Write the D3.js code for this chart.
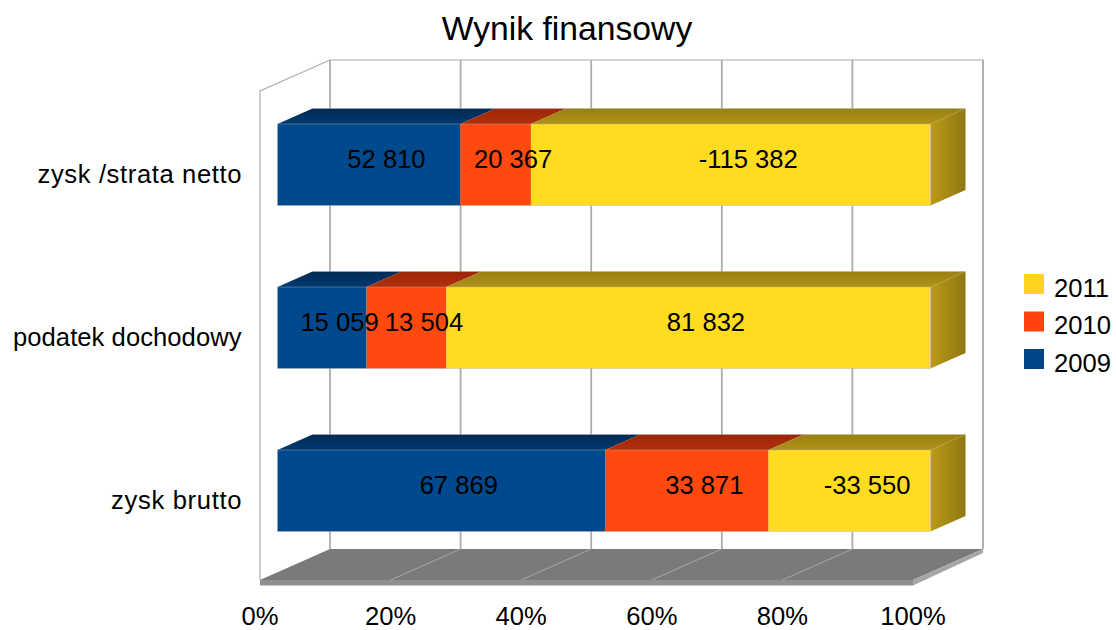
<!DOCTYPE html>
<html><head><meta charset="utf-8">
<style>html,body{margin:0;padding:0;background:#fff}svg{display:block}text{font-family:"Liberation Sans",Arial,sans-serif;fill:#000}</style>
<script src="https://cdn.jsdelivr.net/npm/d3@7"></script>
</head><body><svg id="c" width="1116" height="630"></svg>
<script>
const title = "Wynik finansowy";
const categories = ["zysk /strata netto", "podatek dochodowy", "zysk brutto"];
const seriesNames = ["2009", "2010", "2011"];
const values2009 = [52810, 15059, 67869];
const values2010 = [20367, 13504, 33871];
const values2011 = [-115382, 81832, -33550];
const seriesColors = ["#004586", "#ff420e", "#ffd320"];
const frontColors = ["#00498c", "#ff490f", "#ffdc20"];
const topColors = [["#002a54", "#003a70"], ["#9a2608", "#b3300b"], ["#9a7f12", "#b0921a"]];
const sideColors = ["#bb9b1a", "#8e7710"];
const xTicks = [0, .2, .4, .6, .8, 1];
const catLabelLengths = [204, 228.5, 130.5];

const allValues = [values2009, values2010, values2011];
const svg = d3.select("#c");
const dx = 70, dy = -31;
const x = d3.scaleLinear().domain([0, 1]).range([260, 913]);
const y = d3.scaleBand().domain(categories).range([91, 580]).paddingInner(.5).paddingOuter(.25);
const yMid = c => y(c) + y.bandwidth() / 2;
const P = (px, py, z) => [px + dx * z, py + dy * z];
const pts = a => a.map(p => p.join(",")).join(" ");
const fmt = v => (v < 0 ? "-" : "") + d3.format(",")(Math.abs(v)).replace(/,/g, " ");

const defs = svg.append("defs");
topColors.forEach((c, i) => {
  const g = defs.append("linearGradient").attr("id", "top" + i).attr("x1", 0).attr("x2", 0).attr("y1", 0).attr("y2", 1);
  g.append("stop").attr("offset", 0).attr("stop-color", c[0]);
  g.append("stop").attr("offset", 1).attr("stop-color", c[1]);
});
const sg = defs.append("linearGradient").attr("id", "side").attr("x1", 0).attr("x2", 1).attr("y1", 0).attr("y2", 0);
sg.append("stop").attr("offset", 0).attr("stop-color", sideColors[0]);
sg.append("stop").attr("offset", 1).attr("stop-color", sideColors[1]);

// title
svg.append("text").attr("x", 567).attr("y", 40).attr("text-anchor", "middle").attr("font-size", 33.7).text(title);

// walls and grid
const wall = svg.append("g").attr("fill", "none").attr("stroke", "#adadad");
const [y0, y1] = y.range();
wall.append("polyline").attr("stroke-width", 1.2).attr("points", pts([[x(0), y1], [x(0), y0], P(x(0), y0, 1), P(x(1), y0, 1), P(x(1), y1, 1)]));
wall.selectAll("line.g").data(xTicks).join("line").attr("class", "g")
  .attr("stroke-width", 1.8)
  .attr("x1", d => P(x(d), y0, 1)[0]).attr("x2", d => P(x(d), y0, 1)[0])
  .attr("y1", y0 + dy).attr("y2", y1 + dy);

// floor
svg.append("polygon").attr("fill", "#7a7a7a").attr("points", pts([[x(0), y1], P(x(0), y1, 1), P(x(1), y1, 1), [x(1), y1]]));
svg.selectAll("line.f").data(xTicks.slice(1, 5)).join("line").attr("class", "f")
  .attr("stroke", "#b3b3b3").attr("stroke-width", .8)
  .attr("x1", d => x(d)).attr("y1", y1).attr("x2", d => P(x(d), y1, 1)[0]).attr("y2", y1 + dy);
svg.append("polygon").attr("fill", "#8f8f8f").attr("points", pts([[x(0), y1], [x(1), y1], [x(1), y1 + 5.5], [x(0), y1 + 5.5]]));
svg.append("polygon").attr("fill", "#a6a6a6").attr("points", pts([[x(1), y1], P(x(1), y1, 1), [P(x(1), y1, 1)[0], y1 + dy + 4], [x(1), y1 + 5.5]]));

// bars
const zF = .25, zB = .75;
const segments = [];
categories.forEach((c, ci) => {
  const abs = allValues.map(s => Math.abs(s[ci]));
  const total = d3.sum(abs);
  let acc = 0;
  abs.forEach((a, si) => {
    segments.push({c, si, v: allValues[si][ci], a0: acc / total, a1: (acc + a) / total, last: si === 2});
    acc += a;
  });
});
const bars = svg.append("g");
segments.forEach(s => {
  const t = y(s.c), b = t + y.bandwidth(), l = x(s.a0), r = x(s.a1);
  bars.append("polygon").attr("fill", `url(#top${s.si})`)
    .attr("points", pts([P(l, t, zF), P(l, t, zB), P(r, t, zB), P(r, t, zF)]));
  if (s.last) bars.append("polygon").attr("fill", "url(#side)")
    .attr("points", pts([P(r, t, zF), P(r, t, zB), P(r, b, zB), P(r, b, zF)]));
  const f = P(l, t, zF), g = P(r, b, zF);
  bars.append("rect").attr("x", f[0]).attr("y", f[1]).attr("width", g[0] - f[0]).attr("height", g[1] - f[1])
    .attr("fill", frontColors[s.si]);
});
// faint outline of each bar
categories.forEach(c => {
  const t = y(c), b = t + y.bandwidth(), f = P(x(0), t, zF), g = P(x(1), b, zF);
  bars.append("rect").attr("x", f[0]).attr("y", f[1]).attr("width", g[0] - f[0]).attr("height", g[1] - f[1])
    .attr("fill", "none").attr("stroke", "#b3b3b3").attr("stroke-width", .6).attr("stroke-opacity", .7);
  bars.append("line").attr("x1", P(x(0), t, zB)[0]).attr("x2", P(x(1), t, zB)[0])
    .attr("y1", P(0, t, zB)[1]).attr("y2", P(0, t, zB)[1])
    .attr("stroke", "#b3b3b3").attr("stroke-width", .6).attr("stroke-opacity", .7);
});
bars.selectAll("text").data(segments).join("text")
  .attr("x", d => P(x((d.a0 + d.a1) / 2), 0, .5)[0])
  .attr("y", d => P(0, yMid(d.c), .5)[1] + 10.5)
  .attr("text-anchor", "middle").attr("font-size", 25.6).text(d => fmt(d.v));

// category labels
svg.selectAll("text.cat").data(categories).join("text").attr("class", "cat")
  .attr("x", 241.5).attr("y", d => yMid(d) + 10)
  .attr("text-anchor", "end").attr("font-size", 25.6)
  .attr("textLength", (d, i) => catLabelLengths[i]).attr("lengthAdjust", "spacing").text(d => d);

// x ticks
svg.selectAll("text.xt").data(xTicks).join("text").attr("class", "xt")
  .attr("x", d => x(d)).attr("y", 625)
  .attr("text-anchor", "middle").attr("font-size", 25.6).text(d => d3.format(".0%")(d));

// legend
const legendY = d3.scalePoint().domain(seriesNames.slice().reverse()).range([284, 359]);
const lg = svg.selectAll("g.l").data(seriesNames).join("g").attr("class", "l");
lg.append("rect").attr("x", 1024).attr("y", d => legendY(d) - 10).attr("width", 20).attr("height", 20)
  .attr("fill", (d, i) => seriesColors[i]);
lg.append("text").attr("x", 1054).attr("y", d => legendY(d) + 12.5).attr("font-size", 25.6).text(d => d);
</script></body></html>
